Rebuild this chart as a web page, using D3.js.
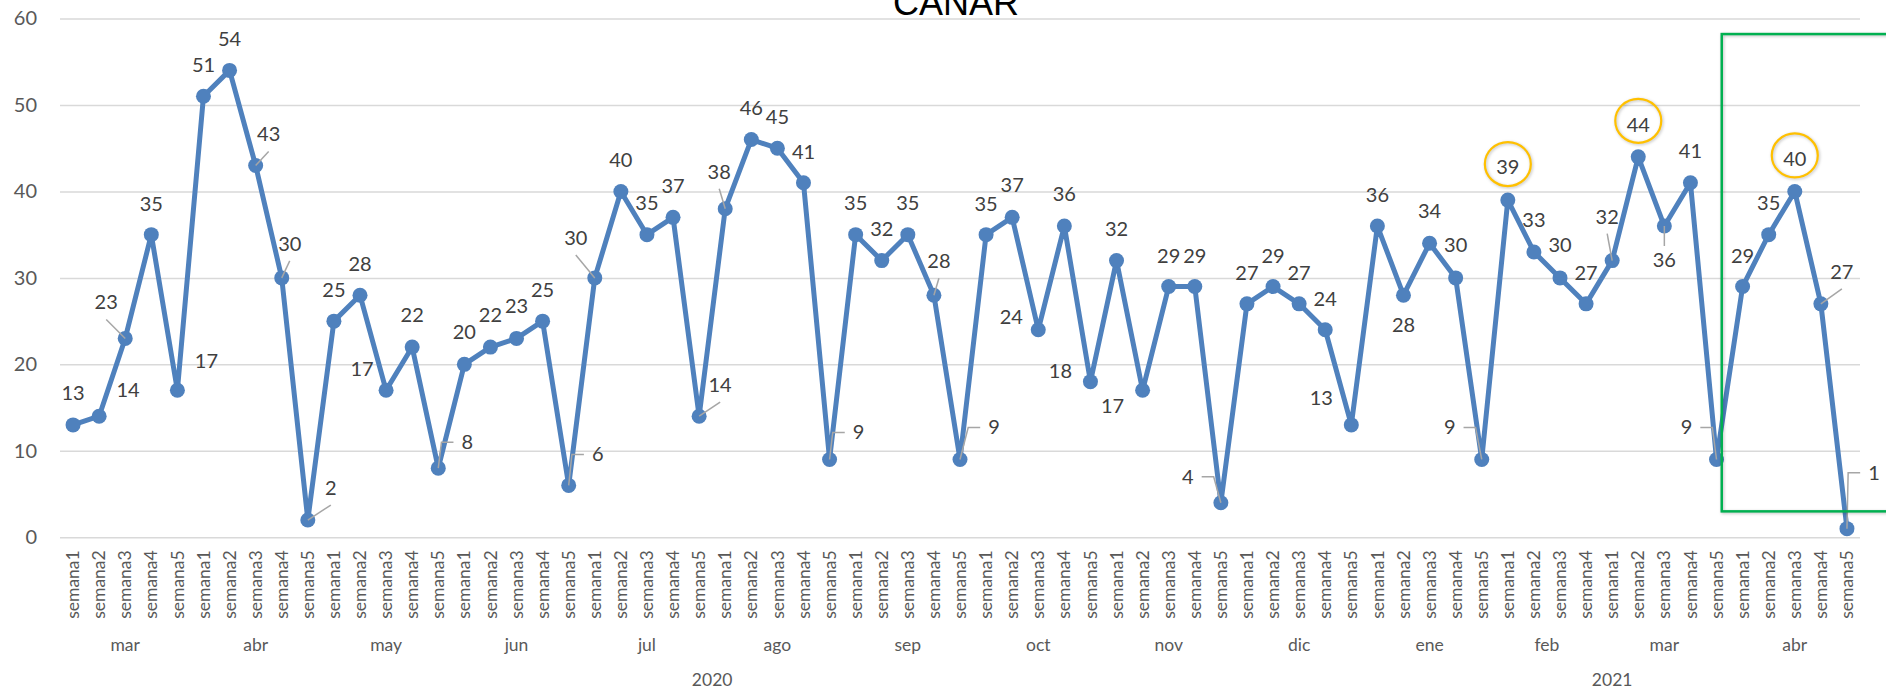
<!DOCTYPE html>
<html>
<head>
<meta charset="utf-8">
<title>CANAR</title>
<style>
	body { margin: 0; background: #fff; }
	svg { display: block; }
	.axis text { font-family: Lato, "Open Sans", sans-serif; fill: #595959; }
	.axis path { display: none; }
	.grid line { stroke: #d9d9d9; stroke-width: 1.5; }
	.lbl { font-family: Lato, "Open Sans", sans-serif; font-size: 20px; fill: #404040; }
	.leader { fill: none; stroke: #a6a6a6; stroke-width: 1.5; }
	.mark { filter: drop-shadow(1px 1px 1.5px rgba(0,0,0,0.25)); }
</style>
</head>
<body>
<div id="chart"></div>
<script src="https://cdn.jsdelivr.net/npm/d3@7/dist/d3.min.js"></script>
<script>
// weekly counts, Canar
var years = ["2020", "2021"];
var months = ["mar", "abr", "may", "jun", "jul", "ago", "sep", "oct", "nov", "dic", "ene", "feb", "mar", "abr"];
var monthYear = ["2020", "2020", "2020", "2020", "2020", "2020", "2020", "2020", "2020", "2020", "2021", "2021", "2021", "2021"];
var weeksInMonth = [5, 5, 5, 5, 5, 5, 5, 5, 5, 5, 5, 4, 5, 5];
var values = [
	13, 14, 23, 35, 17,
	51, 54, 43, 30, 2,
	25, 28, 17, 22, 8,
	20, 22, 23, 25, 6,
	30, 40, 35, 37, 14,
	38, 46, 45, 41, 9,
	35, 32, 35, 28, 9,
	35, 37, 24, 36, 18,
	32, 17, 29, 29, 4,
	27, 29, 27, 24, 13,
	36, 28, 34, 30, 9,
	39, 33, 30, 27,
	32, 44, 36, 41, 9,
	29, 35, 40, 27, 1
];
var yTicks = [0, 10, 20, 30, 40, 50, 60];
var circled = [55, 60, 66];   // week indexes ringed in yellow
var boxFrom = 63.2, boxTop = 58.2, boxBottom = 3;   // green box, in data units

// label placement next to each point (px), and leader type: "" none, "s" straight, "e" elbow
var labelShift = [
	[0,-32],[29,-26],[-19,-36],[0,-31],[29,-29],
	[0,-31],[0,-31],[13,-31],[8,-34],[23,-32],
	[0,-31],[0,-31],[-24,-21],[0,-32],[29,-26],
	[0,-32],[0,-32],[0,-32],[0,-31],[29,-31],
	[-19,-40],[0,-31],[0,-32],[0,-31],[21,-31],
	[-6,-37],[0,-32],[0,-31],[0,-31],[29,-27],
	[0,-32],[0,-32],[0,-32],[5,-34],[34,-32],
	[0,-31],[0,-32],[-27,-13],[0,-32],[-30,-11],
	[0,-32],[-30,16],[0,-31],[0,-31],[-33,-26],
	[0,-31],[0,-31],[0,-31],[0,-31],[-30,-27],
	[0,-31],[0,30],[0,-32],[0,-33],[-32,-32],
	[0,-33],[0,-32],[0,-33],[0,-31],
	[-5,-44],[0,-32],[0,34],[0,-32],[-30,-32],
	[0,-31],[0,-32],[0,-32],[21,-32],[27,-56]
];
var leaderType = [
	"", "", "s", "", "",
	"", "", "s", "s", "s",
	"", "", "", "", "e",
	"", "", "", "", "e",
	"s", "", "", "", "s",
	"s", "", "", "", "e",
	"", "", "", "s", "e",
	"", "", "", "", "",
	"", "", "", "", "e",
	"", "", "", "", "",
	"", "", "", "", "e",
	"", "", "", "",
	"s", "", "s", "", "e",
	"", "", "", "s", "e"
];

var width = 1886, height = 689;
var plotL = 60, plotR = 1860, plotT = 18.5, plotB = 537.3;

var weekLabels = [], weekMonth = [];
weeksInMonth.forEach(function (n, m) {
	for (var k = 1; k <= n; k++) {
		weekLabels.push("semana" + k);
		weekMonth.push(m);
	}
});

var svg = d3.select("#chart").append("svg")
	.attr("width", width)
	.attr("height", height);

var x = d3.scaleBand().domain(d3.range(values.length)).range([plotL, plotR]);
var y = d3.scaleLinear().domain([0, 60]).range([plotB, plotT]);
function cx(i) { return x(i) + x.bandwidth() / 2; }

// y gridlines + ticks
var yAxis = svg.append("g")
	.attr("class", "axis grid")
	.attr("transform", "translate(" + plotL + ",0)")
	.call(d3.axisLeft(y).tickValues(yTicks).tickSize(-(plotR - plotL)).tickPadding(23));
yAxis.selectAll("text").style("font-size", "20px");

// title, mostly cut off at the top
svg.append("text")
	.attr("x", 956).attr("y", 15)
	.attr("text-anchor", "middle")
	.style("font-family", "'Liberation Sans', Arial, sans-serif")
	.style("font-size", "36px")
	.style("fill", "#000")
	.text("CANAR");

// week labels, rotated
var xAxis = svg.append("g")
	.attr("class", "axis")
	.attr("transform", "translate(0," + plotB + ")")
	.call(d3.axisBottom(x).tickSize(0).tickFormat(function (i) { return weekLabels[i]; }));
xAxis.selectAll("text")
	.attr("transform", "rotate(-90)")
	.attr("x", -13).attr("y", 0).attr("dy", "0.35em")
	.style("text-anchor", "end")
	.style("font-size", "17.5px");

// month labels
var monthGroups = d3.groups(d3.range(values.length), function (i) { return weekMonth[i]; });
svg.append("g").attr("class", "axis")
	.selectAll("text")
	.data(monthGroups)
	.enter().append("text")
	.attr("x", function (d) { return (cx(d[1][0]) + cx(d[1][d[1].length - 1])) / 2; })
	.attr("y", 645).attr("dy", "0.35em")
	.attr("text-anchor", "middle")
	.style("font-size", "17.5px")
	.text(function (d) { return months[d[0]]; });

// year labels
svg.append("g").attr("class", "axis")
	.selectAll("text")
	.data(years)
	.enter().append("text")
	.attr("x", function (yr) {
		var idx = d3.range(values.length).filter(function (i) { return monthYear[weekMonth[i]] === yr; });
		return (cx(idx[0]) + cx(idx[idx.length - 1])) / 2;
	})
	.attr("y", 680).attr("dy", "0.35em")
	.attr("text-anchor", "middle")
	.style("font-size", "17.5px")
	.text(function (d) { return d; });

// series
var line = d3.line()
	.x(function (d, i) { return cx(i); })
	.y(function (d) { return y(d); });

svg.append("path")
	.datum(values)
	.attr("d", line)
	.attr("fill", "none")
	.attr("stroke", "#4f81bd")
	.attr("stroke-width", 5)
	.attr("stroke-linejoin", "round");

svg.append("g")
	.selectAll("circle")
	.data(values)
	.enter().append("circle")
	.attr("cx", function (d, i) { return cx(i); })
	.attr("cy", function (d) { return y(d); })
	.attr("r", 7.5)
	.attr("fill", "#4f81bd");

// data labels
var labels = svg.append("g")
	.selectAll("text")
	.data(values)
	.enter().append("text")
	.attr("class", "lbl")
	.attr("x", function (d, i) { return cx(i) + labelShift[i][0]; })
	.attr("y", function (d, i) { return y(d) + labelShift[i][1]; })
	.attr("dy", "0.35em")
	.attr("text-anchor", "middle")
	.text(function (d) { return d; });

// leader lines
var leaders = svg.append("g");
labels.each(function (d, i) {
	var t = leaderType[i];
	if (!t) return;
	var px = cx(i), py = y(d);
	var lx = px + labelShift[i][0], ly = py + labelShift[i][1];
	var w = this.getComputedTextLength();
	var pts;
	if (t === "s") {
		pts = labelShift[i][1] < 0 ? [[lx, ly + 17], [px, py]] : [[lx, ly - 14], [px, py]];
	} else {
		var side = labelShift[i][0] > 0 ? -1 : 1;
		var edge = lx + side * (w / 2 + 8);
		pts = [[edge, ly], [edge + side * 12, ly], [px, py]];
	}
	leaders.append("path")
		.attr("class", "leader")
		.attr("d", d3.line()(pts));
});

// yellow rings on peaks
svg.append("g")
	.selectAll("ellipse")
	.data(circled)
	.enter().append("ellipse")
	.attr("class", "mark")
	.attr("cx", function (i) { return cx(i); })
	.attr("cy", function (i) { return y(values[i]) - 36; })
	.attr("rx", 23).attr("ry", 22)
	.attr("fill", "none")
	.attr("stroke", "#ffc000")
	.attr("stroke-width", 2.2);

// green box over the last weeks
var boxX = cx(Math.floor(boxFrom)) + (boxFrom % 1) * x.step();
svg.append("rect")
	.attr("class", "mark")
	.attr("x", boxX)
	.attr("y", y(boxTop))
	.attr("width", width + 20 - boxX)
	.attr("height", y(boxBottom) - y(boxTop))
	.attr("fill", "none")
	.attr("stroke", "#00b050")
	.attr("stroke-width", 2.5);
</script>
</body>
</html>
